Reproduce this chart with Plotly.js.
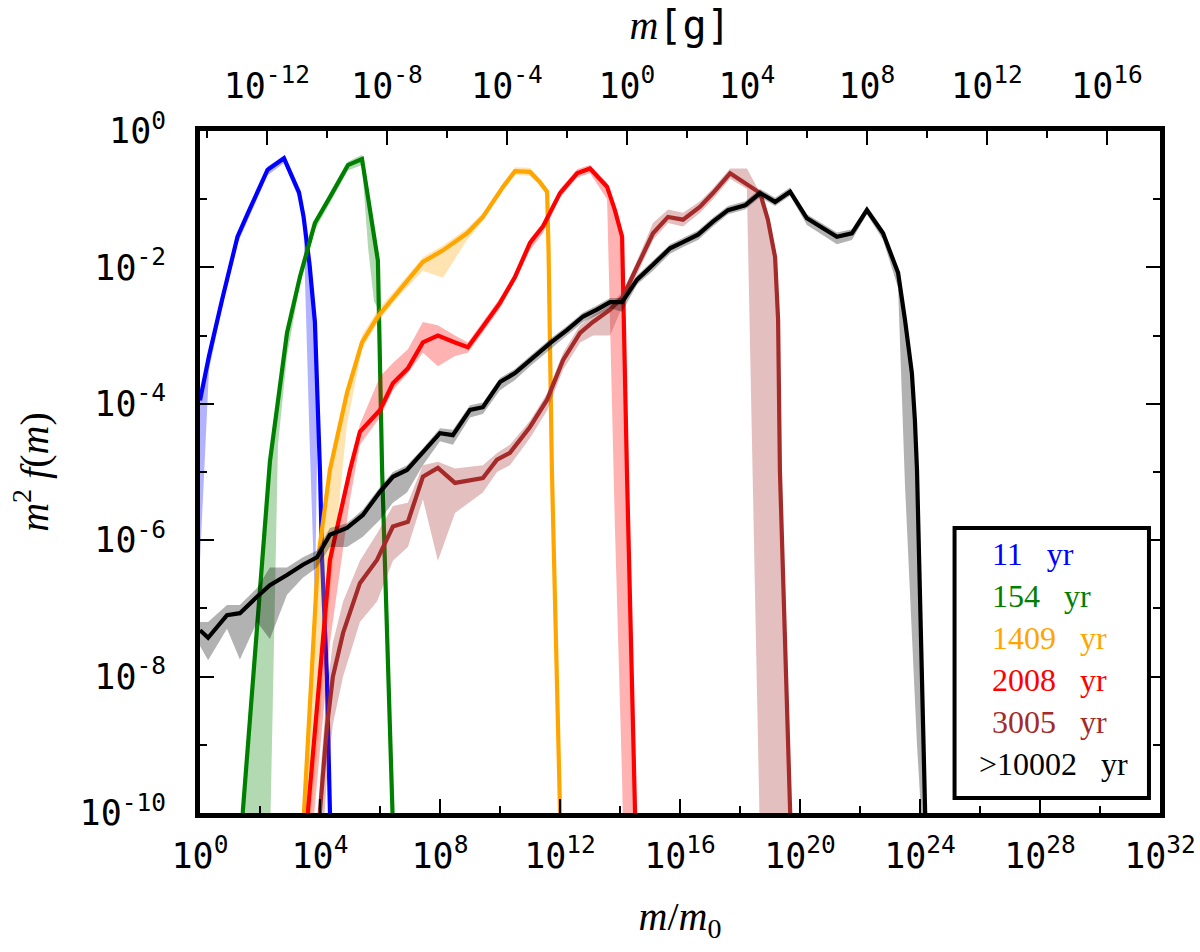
<!DOCTYPE html>
<html>
<head>
<meta charset="utf-8">
<script src="https://cdn.plot.ly/plotly-3.0.1.min.js"></script>
<style>
  html, body { margin: 0; padding: 0; background: #fff; }
  #plot { width: 1200px; height: 952px; }
</style>
</head>
<body>
<div id="plot"></div>
<script>
/**
 * Values, kept as log10 of m/m0 and of m^2 f(m).
 * Each run has its median line and a lower / upper envelope.
 */
var blueLogM = [0, 0.3, 0.75, 1.25, 1.6, 2.25, 2.8, 3.3, 3.45, 3.65, 3.83, 3.93, 4.0, 4.07, 4.23, 4.33, 4.45];
var blueLogF = [-3.95, -3.3, -2.45, -1.55, -1.2, -0.57, -0.40, -0.9, -1.25, -1.95, -2.8, -3.9, -5.0, -6.3, -8.0, -9.96, -12];
var blueLo   = [-6.3, -3.5, -2.55, -1.65, -1.3, -0.65, -0.47, -1.0, -1.4, -4.5, -6.9, -3.95, -5.05, -6.35, -8.05, -10, -12];
var blueHi   = [-3.9, -3.25, -2.4, -1.5, -1.15, -0.52, -0.36, -0.85, -1.2, -1.9, -2.75, -3.85, -4.95, -6.25, -7.95, -9.9, -12];

var greenLogM = [1.35, 1.43, 2.33, 2.6, 2.9, 3.33, 3.83, 4.33, 4.93, 5.4, 5.6, 5.8, 5.93, 6.07, 6.4, 6.5];
var greenLogF = [-11, -9.96, -4.85, -3.9, -2.96, -2.14, -1.35, -0.97, -0.5, -0.41, -0.95, -1.5, -1.9, -4.97, -9.96, -11.2];
var greenLo   = [-11, -11, -10.5, -4.6, -3.3, -2.25, -1.45, -1.05, -0.58, -0.5, -1.7, -2.5, -2.6, -5.0, -10, -11.2];
var greenHi   = [-11, -9.9, -4.8, -3.85, -2.9, -2.09, -1.3, -0.92, -0.45, -0.35, -0.9, -1.45, -1.85, -4.9, -9.9, -11.2];

var orangeLogM = [3.4, 3.47, 3.93, 4.33, 4.9, 5.4, 5.93, 6.57, 7.43, 8.1, 8.9, 9.43, 10.1, 10.5, 11.0, 11.33, 11.57, 11.62, 11.73, 12.0, 12.05];
var orangeLogF = [-11, -9.96, -6.29, -4.97, -3.84, -3.1, -2.72, -2.38, -1.92, -1.75, -1.5, -1.26, -0.82, -0.59, -0.6, -0.75, -0.89, -1.79, -4.97, -9.96, -11];
var orangeLo   = [-11, -11, -9.0, -6.8, -4.3, -3.2, -2.8, -2.45, -2.05, -2.15, -1.6, -1.32, -0.88, -0.64, -0.66, -0.8, -0.95, -1.9, -5.1, -10, -11];
var orangeHi   = [-11, -9.9, -6.2, -4.9, -3.75, -3.0, -2.62, -2.3, -1.85, -1.68, -1.43, -1.2, -0.76, -0.53, -0.54, -0.7, -0.84, -1.74, -4.9, -9.9, -11];

var redLogM = [3.5, 3.6, 4.33, 5.0, 5.33, 6.0, 6.43, 6.93, 7.43, 7.93, 8.5, 8.93, 9.43, 10.0, 10.5, 11.0, 11.43, 12.0, 12.57, 13.0, 13.57, 13.83, 14.07, 14.1, 14.23, 14.5, 14.6];
var redLogF = [-11, -9.96, -6.29, -4.97, -4.41, -4.09, -3.7, -3.48, -3.1, -3.0, -3.1, -3.17, -2.87, -2.52, -2.14, -1.64, -1.4, -0.91, -0.62, -0.55, -0.82, -1.16, -1.55, -2.28, -4.97, -9.96, -11];
var redLo   = [-11, -11, -7.5, -5.4, -4.6, -4.2, -3.8, -3.55, -3.25, -3.45, -3.3, -3.25, -2.95, -2.6, -2.2, -1.75, -1.5, -0.98, -0.68, -0.62, -1.0, -5.8, -9.5, -10.2, -11, -11, -11];
var redHi   = [-11, -9.9, -6.2, -4.9, -4.3, -3.6, -3.4, -3.2, -2.8, -2.85, -3.0, -3.1, -2.8, -2.45, -2.08, -1.58, -1.34, -0.85, -0.56, -0.5, -0.76, -1.1, -1.5, -2.22, -4.9, -9.9, -11];

var brownLogM = [3.9, 4.0, 4.23, 4.43, 4.77, 5.33, 5.9, 6.43, 6.93, 7.43, 7.93, 8.5, 9.43, 9.9, 10.33, 11.0, 11.57, 12.1, 12.67, 13.1,
                 13.67, 14.1, 14.57, 15.1, 15.6, 16.1, 16.67, 17.1, 17.67, 18.23, 18.67, 18.93, 19.17, 19.27, 19.33, 19.67, 19.75];
var brownLogF = [-11, -9.96, -8.74, -8.0, -7.36, -6.63, -6.29, -5.8, -5.73, -5.07, -4.94, -5.16, -5.09, -4.82, -4.72, -4.34, -3.94, -3.36, -2.96, -2.8,
                 -2.62, -2.43, -1.99, -1.5, -1.26, -1.3, -1.11, -0.91, -0.62, -0.79, -0.91, -1.3, -1.85, -2.77, -4.97, -9.96, -11];
var brownLo   = [-11, -11, -9.5, -8.7, -8.0, -7.2, -6.9, -6.3, -6.1, -5.4, -6.3, -5.6, -5.3, -5.0, -4.9, -4.5, -4.1, -3.5, -3.1, -3.0,
                 -3.0, -2.55, -2.1, -1.6, -1.35, -1.4, -1.2, -1.0, -0.7, -0.85, -10.5, -11, -11, -11, -11, -11, -11];
var brownHi   = [-11, -9.5, -8.2, -7.5, -6.9, -6.3, -5.9, -5.5, -5.45, -4.9, -4.85, -4.95, -4.9, -4.72, -4.6, -4.25, -3.85, -3.25, -2.85, -2.7,
                 -2.55, -2.35, -1.9, -1.35, -1.15, -1.2, -1.03, -0.84, -0.55, -0.55, -0.91, -1.3, -1.85, -2.77, -4.97, -9.96, -11];

var blackLogM = [0, 0.27, 0.9, 1.33, 1.9, 2.33, 2.9, 3.43, 3.9, 4.33, 4.9, 5.43, 6.0, 6.43, 6.9, 7.43, 8.0, 8.43, 9.0, 9.43,
                 10.0, 10.5, 11.0, 11.67, 12.23, 12.77, 13.23, 13.67, 14.07, 14.57, 15.1, 15.67, 16.1, 16.6, 17.1, 17.6, 18.17, 18.67, 19.17, 19.67,
                 20.23, 20.73, 21.23, 21.73, 22.23, 22.77, 23.27, 23.5, 23.73, 23.83, 23.9, 24.17, 24.25];
var blackLogF = [-7.32, -7.43, -7.1, -7.07, -6.83, -6.66, -6.51, -6.36, -6.25, -5.92, -5.82, -5.63, -5.29, -5.07, -4.97, -4.72, -4.43, -4.46, -4.09, -4.05,
                 -3.68, -3.55, -3.36, -3.11, -2.92, -2.72, -2.62, -2.51, -2.51, -2.18, -1.96, -1.72, -1.63, -1.52, -1.33, -1.16, -1.09, -0.91, -1.04, -0.89,
                 -1.28, -1.42, -1.55, -1.5, -1.16, -1.5, -2.08, -2.77, -3.55, -4.24, -4.97, -9.96, -11];
var blackLo   = [-7.55, -7.76, -7.3, -7.75, -7.2, -7.45, -6.8, -6.55, -6.4, -6.1, -6.1, -5.95, -5.7, -5.45, -5.3, -4.9, -4.55, -4.6, -4.2, -4.15,
                 -3.8, -3.65, -3.45, -3.2, -3.0, -2.8, -2.7, -2.6, -2.65, -2.25, -2.05, -1.8, -1.7, -1.6, -1.4, -1.22, -1.15, -0.97, -1.1, -0.95,
                 -1.38, -1.52, -1.66, -1.6, -1.22, -1.6, -2.3, -5.2, -7.3, -8.3, -9.0, -11, -11];
var blackHi   = [-7.2, -7.2, -6.95, -6.95, -6.7, -6.4, -6.4, -6.25, -6.15, -5.82, -5.75, -5.55, -5.22, -5.0, -4.9, -4.65, -4.36, -4.38, -4.02, -3.98,
                 -3.62, -3.49, -3.3, -3.05, -2.86, -2.66, -2.56, -2.45, -2.45, -2.12, -1.9, -1.66, -1.57, -1.46, -1.27, -1.1, -1.03, -0.85, -0.98, -0.83,
                 -1.22, -1.36, -1.49, -1.44, -1.1, -1.44, -2.02, -2.7, -3.48, -4.17, -4.9, -9.9, -11];

// legend entries and colours
var runLabels = ['11', '154', '1409', '2008', '3005', '>10002'];
var runColors = ['rgb(0,0,255)', 'rgb(0,128,0)', 'rgb(255,165,0)', 'rgb(255,0,0)', 'rgb(165,42,42)', 'rgb(0,0,0)'];
var bandColors = ['rgba(0,0,255,0.3)', 'rgba(0,128,0,0.3)', 'rgba(255,165,0,0.3)', 'rgba(255,0,0,0.3)', 'rgba(165,42,42,0.3)', 'rgba(0,0,0,0.3)'];

// tick exponents
var xMajorExp = [0, 4, 8, 12, 16, 20, 24, 28, 32];
var xMinorExp = [2, 6, 10, 14, 18, 22, 26, 30];
var topMajorExp = [-12, -8, -4, 0, 4, 8, 12, 16];
var topMinorExp = [-14, -10, -6, -2, 2, 6, 10, 14];
var yMajorExp = [0, -2, -4, -6, -8, -10];
var yMinorExp = [-1, -3, -5, -7, -9];
// log10 of the unit mass m0 in grams
var logM0 = -14.23;

function pow10(arr, shift) {
    shift = shift || 0;
    return arr.map(function (v) { return Math.pow(10, v + shift); });
}
function powLabels(arr) {
    return arr.map(function (v) { return '10<sup>' + v + '</sup>'; });
}

var runs = [
    [blueLogM, blueLogF, blueLo, blueHi],
    [greenLogM, greenLogF, greenLo, greenHi],
    [orangeLogM, orangeLogF, orangeLo, orangeHi],
    [redLogM, redLogF, redLo, redHi],
    [brownLogM, brownLogF, brownLo, brownHi],
    [blackLogM, blackLogF, blackLo, blackHi]
];

var data = [];
runs.forEach(function (r, i) {
    var x = pow10(r[0]);
    data.push({
        type: 'scatter', mode: 'lines', x: x, y: pow10(r[2]),
        line: {width: 0, color: bandColors[i]}, showlegend: false, hoverinfo: 'skip'
    });
    data.push({
        type: 'scatter', mode: 'lines', x: x, y: pow10(r[3]),
        line: {width: 0, color: bandColors[i]}, fill: 'tonexty', fillcolor: bandColors[i],
        showlegend: false, hoverinfo: 'skip'
    });
    var line = {
        type: 'scatter', mode: 'lines', x: x, y: pow10(r[1]),
        line: {width: 4.2, color: runColors[i]}, name: runLabels[i] + ' yr', showlegend: false
    };
    // the last run is drawn against the top axis, in grams
    if (i === runs.length - 1) {
        line.x = pow10(r[0], logM0);
        line.xaxis = 'x2';
    }
    data.push(line);
});

var tickFont = {family: 'DejaVu Sans Mono', size: 35, color: '#000'};
var titleFont = {family: 'Liberation Serif', size: 40, color: '#000'};

// legend drawn as a framed box with coloured text
var annotations = runLabels.map(function (lab, i) {
    return {
        xref: 'paper', yref: 'paper',
        x: i === 5 ? 0.809 : 0.823, y: 0.380 - i * 0.0616,
        xanchor: 'left', yanchor: 'middle', showarrow: false,
        text: (lab === '>10002' ? '&gt;10002' : lab) + '\u00a0\u00a0\u00a0yr',
        font: {family: 'Liberation Serif', size: 32, color: runColors[i]}
    };
});

var layout = {
    width: 1200, height: 952,
    margin: {l: 200, r: 40, t: 131, b: 139},
    paper_bgcolor: '#fff', plot_bgcolor: '#fff',
    showlegend: false,
    xaxis: {
        type: 'log', range: [0, 32],
        tickmode: 'array', tickvals: pow10(xMajorExp), ticktext: powLabels(xMajorExp),
        ticks: 'inside', ticklen: 14, tickwidth: 2, tickcolor: '#000',
        minor: {tickmode: 'array', tickvals: pow10(xMinorExp), ticks: 'inside', ticklen: 7, tickwidth: 2, tickcolor: '#000'},
        tickfont: tickFont, ticklabelstandoff: 8,
        showline: true, linewidth: 5, linecolor: '#000', mirror: true,
        showgrid: false, zeroline: false,
        title: {text: '<i>m</i>/<i>m</i><sub>0</sub>', font: titleFont, standoff: 28}
    },
    xaxis2: {
        type: 'log', overlaying: 'x', side: 'top', anchor: 'y',
        range: [logM0, logM0 + 32],
        tickmode: 'array', tickvals: pow10(topMajorExp), ticktext: powLabels(topMajorExp),
        ticks: 'inside', ticklen: 14, tickwidth: 2, tickcolor: '#000',
        minor: {tickmode: 'array', tickvals: pow10(topMinorExp), ticks: 'inside', ticklen: 7, tickwidth: 2, tickcolor: '#000'},
        tickfont: tickFont, ticklabelstandoff: 14,
        showline: true, linewidth: 5, linecolor: '#000',
        showgrid: false, zeroline: false,
        title: {text: '<i>m</i><span style="font-family:DejaVu Sans Mono">[g]</span>', font: titleFont, standoff: 10}
    },
    yaxis: {
        type: 'log', range: [-10, 0],
        tickmode: 'array', tickvals: pow10(yMajorExp), ticktext: powLabels(yMajorExp),
        ticks: 'inside', ticklen: 14, tickwidth: 2, tickcolor: '#000',
        minor: {tickmode: 'array', tickvals: pow10(yMinorExp), ticks: 'inside', ticklen: 7, tickwidth: 2, tickcolor: '#000'},
        tickfont: tickFont, ticklabelstandoff: 22,
        showline: true, linewidth: 5, linecolor: '#000', mirror: 'ticks',
        showgrid: false, zeroline: false,
        title: {text: '<i>m</i><sup>2</sup> <i>f</i>(<i>m</i>)', font: titleFont, standoff: 20}
    },
    shapes: [{
        type: 'rect', xref: 'paper', yref: 'paper',
        x0: 0.786, x1: 0.9885, y0: 0.022, y1: 0.418,
        line: {color: '#000', width: 4}, fillcolor: '#fff', layer: 'above'
    }],
    annotations: annotations
};

Plotly.newPlot('plot', data, layout, {displayModeBar: false, staticPlot: true});
</script>
</body>
</html>
